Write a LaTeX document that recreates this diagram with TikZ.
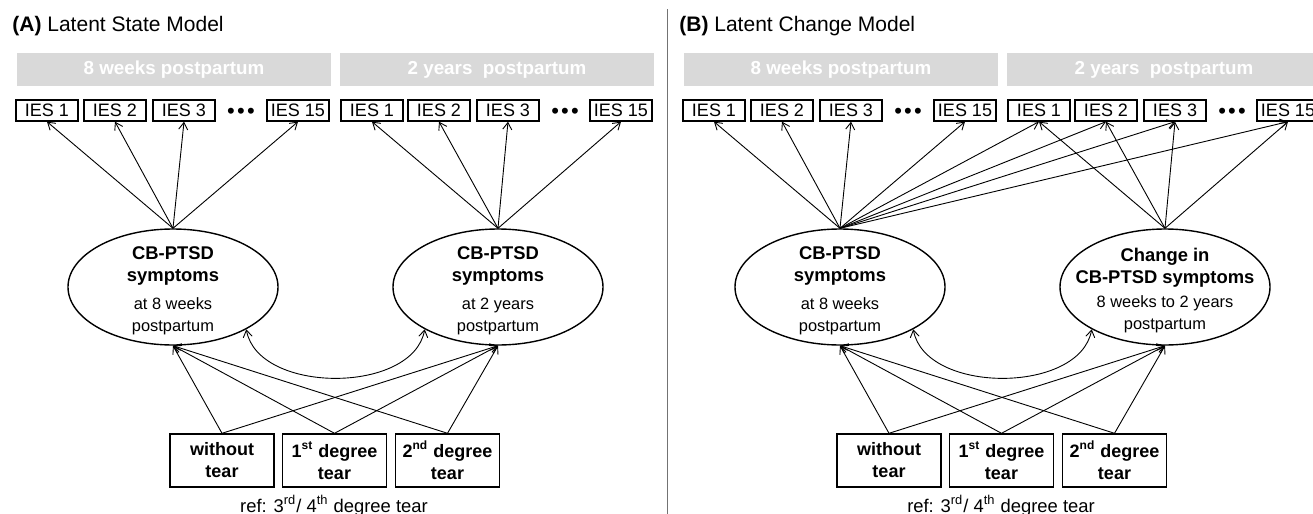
\documentclass[tikz,border=0pt]{standalone}
\usepackage{fontspec}
\setmainfont{Liberation Sans}
\usetikzlibrary{positioning,shapes.geometric,arrows.meta}
\newcommand{\subtxt}{\fontsize{8.2}{10}\selectfont}
\newcommand{\iesdotrow}{\textbullet\hspace{1.1pt}\textbullet\hspace{1.1pt}\textbullet}

\begin{document}
\begin{tikzpicture}[x=0.5pt, y=0.5pt,
    >={Straight Barb[length=3.5pt,width=4.5pt]},
    ies/.style={draw, line width=0.7pt, minimum width=31pt, minimum height=10.5pt, inner sep=0pt, font=\fontsize{9}{10}\selectfont},
    band/.style={fill=black!15, minimum width=157pt, minimum height=16.5pt, inner sep=0pt, text=white, font=\bfseries\fontsize{9.4}{11}\selectfont},
    latent/.style={ellipse, draw, line width=0.7pt, minimum width=105pt, minimum height=58pt, inner sep=0pt},
    lattxt/.style={align=center, inner sep=0pt, yshift=-2pt, font=\fontsize{9.2}{11}\selectfont},
    tearbox/.style={draw, line width=0.7pt, minimum width=52pt, minimum height=26.5pt, inner sep=0pt, align=center, font=\bfseries\fontsize{9}{11}\selectfont},
    iesdots/.style={anchor=base, inner sep=0pt, font=\fontsize{11}{12}\selectfont},
    title/.style={anchor=west, inner sep=0pt, font=\fontsize{10.5}{12}\selectfont},
    reftxt/.style={inner sep=0pt, font=\fontsize{9.2}{11}\selectfont}]
    \useasboundingbox (0,0) rectangle (1313,-514);

    % panel divider
    \draw[black!55, line width=0.5pt] (667,-9) -- (667,-514);

    % ---------------- (A) Latent State Model ----------------
    \node[title] (atitle) at (12,-26) {\textbf{(A)} Latent State Model};
    \node[band] (a8w) at (174,-69.5) {8 weeks postpartum};
    \node[band] (a2y) at (497,-69.5) {2 years~ postpartum};

    \node[ies] (aw1) at (47,-110.5) {IES 1};
    \node[ies] (aw2) at (115,-110.5) {IES 2};
    \node[ies] (aw3) at (184,-110.5) {IES 3};
    \node[iesdots] (awd) at (241,-118) {\iesdotrow};
    \node[ies] (aw15) at (298,-110.5) {IES 15};
    \node[ies] (ay1) at (372,-110.5) {IES 1};
    \node[ies] (ay2) at (439,-110.5) {IES 2};
    \node[ies] (ay3) at (508,-110.5) {IES 3};
    \node[iesdots] (ayd) at (565,-118) {\iesdotrow};
    \node[ies] (ay15) at (621,-110.5) {IES 15};

    \node[latent] (aS8) at (173,-287) {};
    \node[lattxt] (aS8t) at (aS8) {\textbf{CB-PTSD}\\\textbf{symptoms}\\[3pt]{\subtxt at 8 weeks}\\{\subtxt postpartum}};
    \node[latent] (aS2) at (498,-287) {};
    \node[lattxt] (aS2t) at (aS2) {\textbf{CB-PTSD}\\\textbf{symptoms}\\[3pt]{\subtxt at 2 years}\\{\subtxt postpartum}};

    \node[tearbox] (aT0) at (222,-460.5) {without\\tear};
    \node[tearbox] (aT1) at (334.5,-460.5) {1\textsuperscript{st} degree\\tear};
    \node[tearbox] (aT2) at (447.5,-460.5) {2\textsuperscript{nd} degree\\tear};
    \node[reftxt] (aref) at (334,-506) {ref: 3\textsuperscript{rd}/ 4\textsuperscript{th} degree tear};

    \path[->, line width=0.45pt]
        (aS8.north) edge (aw1.south)
        (aS8.north) edge (aw2.south)
        (aS8.north) edge (aw3.south)
        (aS8.north) edge (aw15.south)
        (aS2.north) edge (ay1.south)
        (aS2.north) edge (ay2.south)
        (aS2.north) edge (ay3.south)
        (aS2.north) edge (ay15.south)
        (aT0.north) edge (aS8.south)
        (aT0.north) edge (aS2.south)
        (aT1.north) edge (aS8.south)
        (aT1.north) edge (aS2.south)
        (aT2.north) edge (aS8.south)
        (aT2.north) edge (aS2.south)
        ;
    \draw[<->, line width=0.45pt] (aS8.-30) .. controls +(12,-65) and +(-12,-65) .. (aS2.-150);

    % ---------------- (B) Latent Change Model ----------------
    \node[title] (btitle) at (679,-26) {\textbf{(B)} Latent Change Model};
    \node[band] (b8w) at (841,-69.5) {8 weeks postpartum};
    \node[band] (b2y) at (1164,-69.5) {2 years~ postpartum};

    \node[ies] (bw1) at (714,-110.5) {IES 1};
    \node[ies] (bw2) at (782,-110.5) {IES 2};
    \node[ies] (bw3) at (851,-110.5) {IES 3};
    \node[iesdots] (bwd) at (908,-118) {\iesdotrow};
    \node[ies] (bw15) at (965,-110.5) {IES 15};
    \node[ies] (by1) at (1039,-110.5) {IES 1};
    \node[ies] (by2) at (1106,-110.5) {IES 2};
    \node[ies] (by3) at (1175,-110.5) {IES 3};
    \node[iesdots] (byd) at (1232,-118) {\iesdotrow};
    \node[ies] (by15) at (1288,-110.5) {IES 15};

    \node[latent] (bS8) at (840,-287) {};
    \node[lattxt] (bS8t) at (bS8) {\textbf{CB-PTSD}\\\textbf{symptoms}\\[3pt]{\subtxt at 8 weeks}\\{\subtxt postpartum}};
    \node[latent] (bCh) at (1165,-287) {};
    \node[lattxt] (bCht) at (bCh) {\textbf{Change in}\\\textbf{CB-PTSD symptoms}\\[1pt]{\subtxt 8 weeks to 2 years}\\{\subtxt postpartum}};

    \node[tearbox] (bT0) at (889,-460.5) {without\\tear};
    \node[tearbox] (bT1) at (1001.5,-460.5) {1\textsuperscript{st} degree\\tear};
    \node[tearbox] (bT2) at (1114.5,-460.5) {2\textsuperscript{nd} degree\\tear};
    \node[reftxt] (bref) at (1001,-506) {ref: 3\textsuperscript{rd}/ 4\textsuperscript{th} degree tear};

    \path[->, line width=0.45pt]
        (bS8.north) edge (bw1.south)
        (bS8.north) edge (bw2.south)
        (bS8.north) edge (bw3.south)
        (bS8.north) edge (bw15.south)
        (bS8.north) edge (by1.south)
        (bS8.north) edge (by2.south)
        (bS8.north) edge (by3.south)
        (bS8.north) edge (by15.south)
        (bCh.north) edge (by1.south)
        (bCh.north) edge (by2.south)
        (bCh.north) edge (by3.south)
        (bCh.north) edge (by15.south)
        (bT0.north) edge (bS8.south)
        (bT0.north) edge (bCh.south)
        (bT1.north) edge (bS8.south)
        (bT1.north) edge (bCh.south)
        (bT2.north) edge (bS8.south)
        (bT2.north) edge (bCh.south)
        ;
    \draw[<->, line width=0.45pt] (bS8.-30) .. controls +(12,-65) and +(-12,-65) .. (bCh.-150);
\end{tikzpicture}
\end{document}
